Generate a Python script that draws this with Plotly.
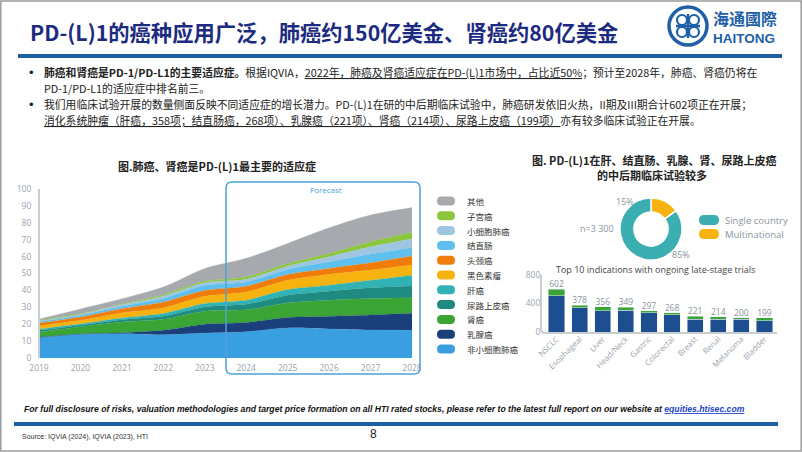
import plotly.graph_objects as go

W, H = 802, 452
def X(px): return px / W
def Y(py): return 1 - py / H

# ---------------- data ----------------
years = [2019, 2020, 2021, 2022, 2023, 2024, 2025, 2026, 2027, 2028]
series_names = ["非小细胞肺癌", "乳腺癌", "肾癌", "尿路上皮癌", "肝癌", "黑色素瘤",
                "头颈癌", "结直肠", "小细胞肺癌", "子宫癌", "其他"]
nsclc      = [12.0, 14.0, 14.4, 13.8, 14.8, 15.6, 17.8, 17.2, 16.6, 16.5]
breast     = [0.3, 0.3, 0.6, 2.6, 5.2, 5.4, 6.1, 7.5, 8.9, 10.0]
kidney     = [3.1, 4.1, 6.3, 6.5, 7.7, 7.5, 8.7, 9.5, 9.7, 9.2]
urothelial = [1.0, 1.0, 1.4, 1.8, 2.5, 3.3, 4.6, 5.3, 6.3, 6.9]
liver      = [0.6, 0.8, 1.0, 1.6, 2.0, 2.4, 3.3, 3.6, 4.5, 6.4]
melanoma   = [2.0, 2.1, 3.0, 3.3, 4.3, 4.9, 5.5, 6.3, 6.0, 6.0]
headneck   = [1.7, 2.0, 2.5, 3.6, 3.5, 3.4, 3.4, 3.6, 4.3, 5.3]
colorectal = [0.8, 1.0, 1.4, 2.0, 3.0, 2.5, 3.0, 3.9, 5.2, 5.0]
sclc       = [0.5, 0.5, 1.0, 1.4, 1.5, 1.6, 1.9, 3.0, 4.3, 5.1]
uterine    = [0.3, 0.4, 0.4, 0.9, 1.0, 1.4, 1.6, 2.0, 3.0, 4.0]
other      = [0.7, 2.8, 3.0, 4.5, 7.5, 11.0, 11.9, 15.1, 15.8, 14.6]
series_values = [nsclc, breast, kidney, urothelial, liver, melanoma,
                 headneck, colorectal, sclc, uterine, other]
series_colors = ["#3a9fe0", "#1b3f7a", "#3aa534", "#1f8a80", "#31b3b5", "#f6b30f",
                 "#f07d0a", "#5fc0f0", "#9fc6e0", "#8cc63f", "#a6a9ae"]

donut_labels = ["Multinational", "Single country"]
donut_values = [15, 85]
donut_colors = ["#f6b30f", "#3aaeb0"]

bar_cats = ["NSCLC", "Esophageal", "Liver", "Head/Neck", "Gastric",
            "Colorectal", "Breast", "Renal", "Melanoma", "Bladder"]
bar_totals = [602, 378, 356, 349, 297, 268, 221, 214, 200, 199]
bar_green = [93, 37, 60, 46, 28, 28, 42, 32, 18, 42]
bar_navy = [t - g for t, g in zip(bar_totals, bar_green)]

CJK = "Noto Sans CJK SC"
SANS = "Open Sans"
GRAY = "#9aa3ad"
BLUE = "#1f5fa8"

fig = go.Figure()

# ---------------- area chart ----------------
for name, vals, col in zip(series_names, series_values, series_colors):
    fig.add_trace(go.Scatter(
        x=years, y=vals, name=name, stackgroup="one", mode="lines",
        line=dict(width=0.3, color=col, shape="spline", smoothing=0.8),
        fillcolor=col, showlegend=False, xaxis="x", yaxis="y"))

# ---------------- donut ----------------
fig.add_trace(go.Pie(
    labels=donut_labels, values=donut_values, hole=0.55, sort=False,
    direction="counterclockwise", rotation=0, textinfo="none",
    marker=dict(colors=donut_colors, line=dict(color="white", width=1.5)),
    domain=dict(x=[X(620), X(682)], y=[Y(260), Y(198)]), showlegend=False))

# ---------------- bar chart ----------------
fig.add_trace(go.Bar(x=bar_cats, y=bar_navy, marker_color="#1d4e8f",
                     xaxis="x2", yaxis="y2", showlegend=False))
fig.add_trace(go.Bar(x=bar_cats, y=bar_green, marker_color="#3aa534",
                     xaxis="x2", yaxis="y2", showlegend=False))
fig.add_trace(go.Scatter(x=bar_cats, y=bar_totals, mode="text",
                         text=[str(v) for v in bar_totals], textposition="top center",
                         textfont=dict(size=8.5, color="#8893a0", family=SANS),
                         xaxis="x2", yaxis="y2", showlegend=False))

shapes = []
ann = []

def line(x0, y0, x1, y1, color, width):
    shapes.append(dict(type="line", xref="paper", yref="paper",
                       x0=X(x0), y0=Y(y0), x1=X(x1), y1=Y(y1),
                       line=dict(color=color, width=width)))

def rrect(x0, y0, x1, y1, r, fill=None, lc=None, lw=0, layer="above"):
    p = (f"M {X(x0+r)} {Y(y0)} L {X(x1-r)} {Y(y0)} Q {X(x1)} {Y(y0)} {X(x1)} {Y(y0+r)} "
         f"L {X(x1)} {Y(y1-r)} Q {X(x1)} {Y(y1)} {X(x1-r)} {Y(y1)} "
         f"L {X(x0+r)} {Y(y1)} Q {X(x0)} {Y(y1)} {X(x0)} {Y(y1-r)} "
         f"L {X(x0)} {Y(y0+r)} Q {X(x0)} {Y(y0)} {X(x0+r)} {Y(y0)} Z")
    d = dict(type="path", xref="paper", yref="paper", path=p, layer=layer,
             line=dict(color=lc if lc else "rgba(0,0,0,0)", width=lw))
    if fill:
        d["fillcolor"] = fill
    shapes.append(d)

def text(x, y, s, size, color="#222", xanchor="left", family=CJK, yanchor="middle"):
    ann.append(dict(x=X(x), y=Y(y), xref="paper", yref="paper", text=s, showarrow=False,
                    xanchor=xanchor, yanchor=yanchor,
                    font=dict(size=size, color=color, family=family)))

# page border
shapes.append(dict(type="rect", xref="paper", yref="paper", x0=0.001, y0=0.002, x1=0.999, y1=0.998,
                   line=dict(color="#9a9a9a", width=1.5)))

# title
text(28, 31, "<b>PD-(L)1的癌种应用广泛，肺癌约150亿美金、肾癌约80亿美金</b>", 21.3, "#1c2b7f")
line(18, 56, 782, 56, BLUE, 4)

# logo
shapes.append(dict(type="circle", xref="paper", yref="paper", x0=X(669), y0=Y(45), x1=X(707), y1=Y(7),
                   line=dict(color=BLUE, width=3.5)))
for cx, cy in [(682, 20), (694, 20), (682, 32), (694, 32)]:
    shapes.append(dict(type="circle", xref="paper", yref="paper", x0=X(cx-5), y0=Y(cy+5),
                       x1=X(cx+5), y1=Y(cy-5), line=dict(color=BLUE, width=2.2)))
line(676, 26, 700, 26, BLUE, 2.5)
line(688, 14, 688, 38, BLUE, 2.5)
text(711, 18, "<b>海通國際</b>", 16, BLUE)
text(711, 38, "<b>HAITONG</b>", 13.5, BLUE, family="Liberation Sans")

# bullets
U = '<span style="text-decoration:underline">'
BS = 10.8
text(27, 72, "•", 13, "#222", "left", "Liberation Sans")
text(42, 72, "<b>肺癌和肾癌是PD-1/PD-L1的主要适应症。</b>根据IQVIA，" + U +
     "2022年，肺癌及肾癌适应症在PD-(L)1市场中，占比近50%</span>；预计至2028年，肺癌、肾癌仍将在", BS)
text(42, 88, "PD-1/PD-L1的适应症中排名前三。", BS)
text(27, 104, "•", 13, "#222", "left", "Liberation Sans")
text(42, 104, "我们用临床试验开展的数量侧面反映不同适应症的增长潜力。PD-(L)1在研的中后期临床试验中，"
     "肺癌研发依旧火热，II期及III期合计602项正在开展；", BS)
text(42, 120, U + "消化系统肿瘤（肝癌，358项；结直肠癌，268项）、乳腺癌（221项）、肾癌（214项）、"
     "尿路上皮癌（199项）</span>亦有较多临床试验正在开展。", BS)

# chart titles
text(217, 166, "<b>图.肺癌、肾癌是PD-(L)1最主要的适应症</b>", 11, "#222", "center")
text(654, 160, "<b>图. PD-(L)1在肝、结直肠、乳腺、肾、尿路上皮癌</b>", 11, "#222", "center")
text(652, 175, "<b>的中后期临床试验较多</b>", 11, "#222", "center")

# area chart: y axis line + forecast box
line(39, 189, 39, 358, "#c8cdd2", 2)
rrect(226, 182, 420, 374, 6, lc="#4ea3d8", lw=1.5)
text(326, 189, "Forecast", 8, "#4ea3d8", "center", SANS)

# area legend
for i, (name, col) in enumerate(zip(series_names[::-1], series_colors[::-1])):
    yy = 201 + i * 14.8
    rrect(437, yy - 4.5, 455, yy + 4.5, 4.5, fill=col)
    text(465, yy, name, 8.5, "#333")

# donut labels + legend
text(625, 202, "15%", 9, "#8893a0", "center", SANS)
text(681, 254, "85%", 9, "#8893a0", "center", SANS)
text(597, 228, "n=3 300", 9, "#8893a0", "center", SANS)
rrect(699, 215, 719, 225, 5, fill="#3aaeb0")
rrect(699, 229, 719, 239, 5, fill="#f6b30f")
text(723, 220, "Single country", 9.5, "#8a949e", "left", SANS)
text(723, 234, "Multinational", 9.5, "#8a949e", "left", SANS)

# bar chart title and axis lines
text(655, 269, "Top 10 indications with ongoing late-stage trials", 9, "#444", "center", SANS)
shapes.append(dict(type="path", xref="paper", yref="paper",
                   path=f"M {X(541)} {Y(275)} L {X(541)} {Y(329)} Q {X(541)} {Y(333)} {X(545)} {Y(333)} L {X(777)} {Y(333)}",
                   line=dict(color="#c8cdd2", width=2)))

# footer
text(22, 409, "<b><i>For full disclosure of risks, valuation methodologies and target price formation on all HTI rated stocks, "
     "please refer to the latest full report on our website at </i></b>"
     '<b><i><span style="text-decoration:underline;fill:#1a44c8">equities.htisec.com</span></i></b>',
     8.65, "#111", "left", "Liberation Sans")
line(14, 424, 778, 424, BLUE, 4)
text(20, 437, "Source: IQVIA (2024), IQVIA (2023), HTI", 7, "#333", "left", "Liberation Sans")
text(373, 434, "8", 12, "#222", "center", "Liberation Sans")

fig.update_layout(
    width=W, height=H, margin=dict(l=0, r=0, t=0, b=0, pad=0, autoexpand=False),
    paper_bgcolor="white", plot_bgcolor="rgba(0,0,0,0)",
    font=dict(family=CJK),
    barmode="stack", bargap=0.3,
    shapes=shapes, annotations=ann,
    xaxis=dict(domain=[X(39), X(412)], range=[2019, 2028], tickvals=years, automargin=False,
               showgrid=False, zeroline=False, showline=False,
               ticks="outside", ticklen=2, tickcolor="rgba(0,0,0,0)",
               tickfont=dict(size=8.5, color=GRAY, family=SANS), anchor="y"),
    yaxis=dict(domain=[Y(358), Y(189)], range=[0, 100], dtick=10, automargin=False,
               showgrid=False, zeroline=False, showline=False,
               ticks="outside", ticklen=5, tickcolor="rgba(0,0,0,0)",
               tickfont=dict(size=8.5, color=GRAY, family=SANS), anchor="x"),
    xaxis2=dict(domain=[X(545), X(776)], range=[-0.5, 9.5], anchor="y2", automargin=False,
                showgrid=False, zeroline=False, showline=False, tickangle=-45,
                tickfont=dict(size=8, color=GRAY, family=SANS)),
    yaxis2=dict(domain=[Y(332), Y(275)], range=[0, 800], tickvals=[0, 400, 800], automargin=False,
                showgrid=False, zeroline=False, showline=False, anchor="x2",
                ticks="outside", ticklen=2, tickcolor="rgba(0,0,0,0)",
                tickfont=dict(size=8.5, color=GRAY, family=SANS)),
)

fig.write_html("out.html", config={"displayModeBar": False},
               post_script="document.body.style.margin='0px';document.body.style.overflow='hidden';")
